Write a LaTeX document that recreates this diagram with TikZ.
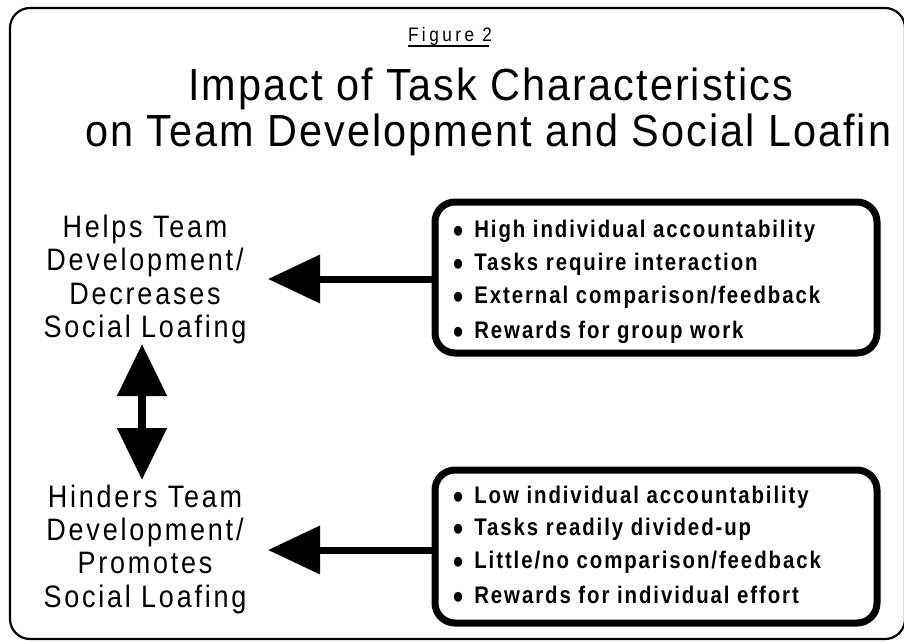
\documentclass[tikz,border=0pt]{standalone}
\usepackage{fontspec}
\setmainfont{Liberation Sans}
\newfontfamily\titlefont[LetterSpace=4.5,FakeStretch=0.92]{Liberation Sans}
\newfontfamily\labelfont[LetterSpace=9,FakeStretch=0.87]{Liberation Sans}
\newfontfamily\boxfont[LetterSpace=8,FakeStretch=0.85]{Liberation Sans}
\newfontfamily\figfont[LetterSpace=18,FakeStretch=0.88]{Liberation Sans}
\newcommand\bul{{\fontsize{34}{33}\selectfont\raisebox{-5pt}{•}}\hspace{11pt}}
\usetikzlibrary{arrows.meta}
\begin{document}
\begin{tikzpicture}[x=1pt,y=-1pt,
  frame/.style={line width=2.2pt, rounded corners=20pt},
  titletext/.style={inner sep=0pt, anchor=base west, font=\titlefont\fontsize{45}{46}\selectfont},
  side/.style={inner sep=0pt, anchor=base, font=\labelfont\fontsize{31}{33.5}\selectfont},
  listbox/.style={draw, line width=7pt, rounded corners=20pt, minimum width=442pt, minimum height=151pt, inner sep=0pt},
  item/.style={inner sep=0pt, anchor=base west, font=\boxfont\bfseries\fontsize{24}{33}\selectfont},
  bigarrow/.style={line width=7pt, -{Triangle[length=52pt,width=47pt]}},
  dblarrow/.style={line width=8pt, {Triangle[length=52pt,width=48pt]}-{Triangle[length=52pt,width=48pt]}},
]
\useasboundingbox (0,0) rectangle (904,643);
\draw[frame] (10,8) rectangle (905,639);

\node[inner sep=0pt, anchor=base, font=\figfont\fontsize{19.5}{22}\selectfont] (fig) at (450,41.5) {Figure 2};
\draw[line width=2pt] ([yshift=-4pt]fig.base west) -- ([yshift=-4pt,xshift=-3pt]fig.base east);

\node[titletext] (t1) at (188,100) {Impact of Task Characteristics};
\node[titletext] (t2) at (85,146) {on Team Development and Social Loafin};

\node[side] (helps1) at (145,237) {Helps Team};
\node[side] (helps2) at (145,270.5) {Development/};
\node[side] (helps3) at (145,304) {Decreases};
\node[side] (helps4) at (145,337.5) {Social Loafing};

\node[side] (hind1) at (145,507) {Hinders Team};
\node[side] (hind2) at (145,540.3) {Development/};
\node[side] (hind3) at (145,573.7) {Promotes};
\node[side] (hind4) at (145,607) {Social Loafing};

\node[listbox] (b1) at (656,277.5) {};
\node[item] (a1) at (453,237) {\bul High individual accountability};
\node[item] (a2) at (453,270) {\bul Tasks require interaction};
\node[item] (a3) at (453,303) {\bul External comparison/feedback};
\node[item] (a4) at (453,338) {\bul Rewards for group work};

\node[listbox, minimum height=153pt] (b2) at (656,546.5) {};
\node[item] (c1) at (453,503) {\bul Low individual accountability};
\node[item] (c2) at (453,535) {\bul Tasks readily divided-up};
\node[item] (c3) at (453,568) {\bul Little/no comparison/feedback};
\node[item] (c4) at (453,603) {\bul Rewards for individual effort};

\coordinate (tip1) at (268,279);
\coordinate (tip2) at (268,550);
\draw[bigarrow] (b1.west |- tip1) -- (tip1);
\draw[bigarrow] (b2.west |- tip2) -- (tip2);

\coordinate (up) at (142,344);
\coordinate (down) at (142,480);
\draw[dblarrow] (up) -- (down);
\end{tikzpicture}
\end{document}
